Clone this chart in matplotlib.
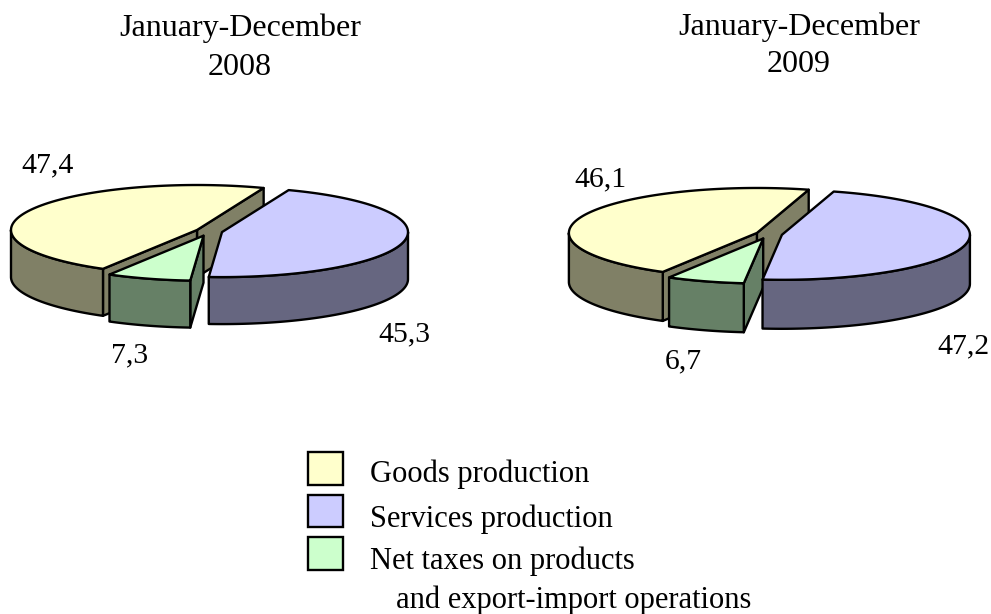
import numpy as np
from matplotlib import pyplot as plt
from matplotlib.patches import Polygon, Rectangle

# =============================================================================

categories = ['Goods production', 'Services production', 'Net taxes on products']
extra_line = 'and export-import operations'
title_line = 'January-December'
years      = ['2008', '2009']
values_08  = [47.4, 45.3, 7.3]
values_09  = [46.1, 47.2, 6.7]

top_col  = ['#FFFFCC', '#CCCCFF', '#CCFFCC']
side_col = ['#808066', '#666680', '#668066']

plt.rcParams['font.family'] = ['Liberation Serif', 'DejaVu Serif']

FS_TITLE = 23
FS_LABEL = 21.4
FS_LEG   = 22
LW       = 1.7

# =============================================================================

def arc(cx, cy, rx, ry, a, b):
	t = np.radians(np.linspace(a, b, 100))
	return np.column_stack([cx + rx*np.cos(t), cy - ry*np.sin(t)])

def poly(ax, pts, color):
	ax.add_patch(Polygon(pts, closed=True, facecolor=color, edgecolor='black', linewidth=LW, joinstyle='round'))

def drawSlice(ax, c, rx, ry, depth, a, b, top, side):
	cx, cy = c
	rim = arc(cx, cy, rx, ry, a, b)
	down = np.array([0, depth])
	apex = np.array([cx, cy])

	# cut faces, only the ones turned to the viewer
	if np.sin(np.radians(a-90)) < 0:
		poly(ax, [rim[0], apex, apex+down, rim[0]+down], side)
	if np.sin(np.radians(b+90)) < 0:
		poly(ax, [apex, rim[-1], rim[-1]+down, apex+down], side)

	# outer wall on the front half of the ellipse
	lo, hi = max(a, 180), min(b, 360)
	if lo < hi:
		front = arc(cx, cy, rx, ry, lo, hi)
		poly(ax, np.vstack([front, (front+down)[::-1]]), side)

	poly(ax, np.vstack([apex, rim]), top)

def drawPie(ax, values, c, rx, ry, depth, start, explode):
	goods, services, taxes = values
	total = goods + services + taxes
	a = start
	spans = {}
	# counter clockwise order on the picture: goods, taxes, services
	for i, v in [(0, goods), (2, taxes), (1, services)]:
		spans[i] = (a, a + v/total*360)
		a = spans[i][1]

	for i in [0, 2, 1]:
		s, e = spans[i]
		m = np.radians((s+e)/2)
		pos = (c[0] + explode[i]*rx*np.cos(m), c[1] - explode[i]*ry*np.sin(m))
		drawSlice(ax, pos, rx, ry, depth, s, e, top_col[i], side_col[i])

# =============================================================================

fig = plt.figure(figsize=(9.91, 6.14), dpi=100)
ax = fig.add_axes([0, 0, 1, 1])
ax.set_xlim(0, 991)
ax.set_ylim(614, 0)
ax.axis('off')

drawPie(ax, values_08, (209, 231.4), 186, 45, 47, 69, [0.0716, 0.0716, 0.10])
drawPie(ax, values_09, (769, 234.2), 188, 45, 49, 74, [0.07, 0.07, 0.10])

ax.text(240, 36, title_line, ha='center', va='baseline', fontsize=FS_TITLE)
ax.text(240, 75, years[0],   ha='center', va='baseline', fontsize=FS_TITLE)
ax.text(799, 35, title_line, ha='center', va='baseline', fontsize=FS_TITLE)
ax.text(799, 72, years[1],   ha='center', va='baseline', fontsize=FS_TITLE)

fmt = lambda v: ('%.1f' % v).replace('.', ',')

for (x, y), v in zip([(21, 172), (378, 341), (111, 362)], values_08):
	ax.text(x, y, fmt(v), ha='left', va='baseline', fontsize=FS_LABEL)
for (x, y), v in zip([(574, 186), (937, 353), (665, 368)], values_09):
	ax.text(x, y, fmt(v), ha='left', va='baseline', fontsize=FS_LABEL)

# legend
for i, (y, base, name) in enumerate(zip([452, 494.5, 537], [482, 527, 569], categories)):
	ax.add_patch(Rectangle((307.5, y), 35.5, 32.5, facecolor=top_col[i], edgecolor='black', linewidth=LW))
	ax.text(370, base, name, ha='left', va='baseline', fontsize=FS_LEG)
ax.text(396, 608, extra_line, ha='left', va='baseline', fontsize=FS_LEG)

fig.savefig('out.png', dpi=100)
